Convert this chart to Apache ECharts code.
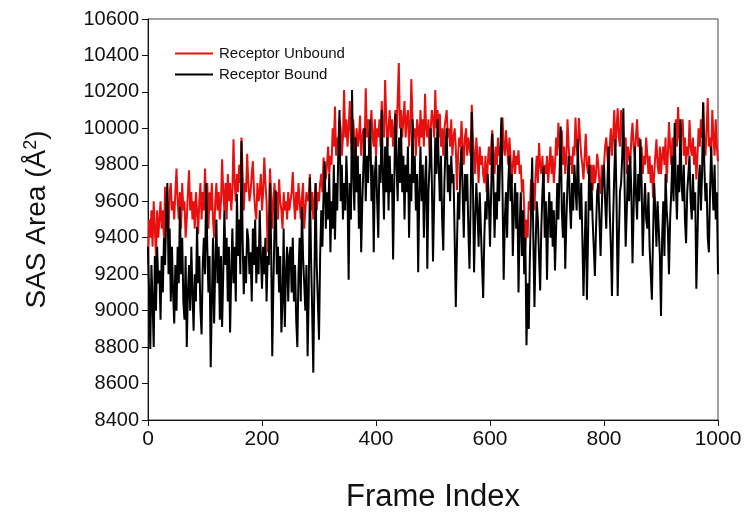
<!DOCTYPE html>
<html>
<head>
<meta charset="utf-8">
<script src="https://cdn.jsdelivr.net/npm/echarts@6/dist/echarts.min.js"></script>
<style>
  html, body { margin: 0; padding: 0; background: #fff; }
  #chart { width: 750px; height: 515px; }
</style>
</head>
<body>
<div id="chart"></div>
<script>
// frames are sampled every 2 frames: value i belongs to frame i*2
const frameStep = 2;

// SAS area, receptor unbound (red) - one row = 50 frames
const unbound = [
  9250, 9500, 9400, 9550, 9350, 9600, 9450, 9300, 9550, 9400, 9500, 9600, 9450, 9550, 9400, 9680, 9500, 9600, 9420, 9650, 9700, 9550, 9600, 9500, 9650,
  9780, 9600, 9500, 9650, 9450, 9700, 9550, 9600, 9400, 9500, 9650, 9770, 9550, 9650, 9500, 9600, 9450, 9650, 9550, 9420, 9600, 9700, 9500, 9650, 9550,
  9780, 9600, 9700, 9450, 9650, 9550, 9700, 9500, 9400, 9600, 9700, 9550, 9650, 9500, 9600, 9830, 9650, 9550, 9700, 9500, 9750, 9600, 9700, 9550, 9650,
  9940, 9700, 9600, 9750, 9650, 9800, 9700, 9950, 9750, 9550, 9700, 9650, 9860, 9700, 9600, 9650, 9750, 9820, 9650, 9550, 9500, 9700, 9600, 9650, 9750,
  9550, 9650, 9840, 9700, 9600, 9320, 9500, 9780, 9650, 9450, 9600, 9700, 9550, 9650, 9500, 9720, 9600, 9550, 9450, 9650, 9550, 9600, 9500, 9650, 9550,
  9550, 9650, 9760, 9600, 9500, 9650, 9550, 9700, 9600, 9500, 9620, 9700, 9450, 9550, 9650, 9600, 9630, 9750, 9550, 9650, 9500, 9600, 9700, 9550, 9650,
  9600, 9700, 9750, 9650, 9840, 9750, 9720, 9800, 9900, 9750, 9850, 9800, 10000, 9900, 10120, 9850, 9950, 9900, 10050, 10000, 9850, 9950, 10210, 9950, 10050,
  9900, 10000, 10150, 9950, 9850, 10050, 9950, 9800, 10000, 9900, 9950, 10070, 9850, 9950, 10000, 9900, 10220, 9950, 10050, 9880, 10000, 10100, 9950, 9900, 10050,
  9850, 10000, 9950, 10050, 9900, 10150, 10000, 9950, 10265, 10050, 9900, 10000, 10100, 9950, 10050, 9900, 10000, 10100, 9950, 10150, 10358, 10000, 10100, 9950, 10050,
  10150, 9950, 10050, 10100, 9900, 10000, 10270, 10050, 9950, 10000, 9850, 10050, 10000, 9900, 10100, 9950, 10050, 9900, 10190, 10000, 9950, 10050, 9850, 10000, 10100,
  10050, 9950, 10210, 10000, 10100, 9950, 10080, 9900, 10000, 9850, 10000, 10050, 10100, 9950, 10000, 9900, 10050, 9850, 9950, 10000, 9900, 9660, 9850, 9950, 9900,
  10040, 9900, 9800, 9950, 10000, 9850, 9950, 9900, 9850, 10130, 9950, 9850, 9750, 9950, 9850, 9700, 9900, 9800, 9850, 9750, 9700, 9850, 9650, 9800, 9900,
  9800, 9900, 9990, 9850, 9750, 9900, 9800, 9950, 9850, 9900, 9800, 10060, 9900, 9850, 9990, 9900, 9800, 9950, 9850, 9700, 9800, 9880, 9750, 9850, 9800,
  9880, 9750, 9800, 9650, 9720, 9550, 9350, 9500, 9400, 9600, 9550, 9720, 9650, 9700, 9550, 9750, 9850, 9700, 9920, 9800, 9750, 9850, 9700, 9800, 9750,
  9850, 9700, 9800, 9900, 9750, 9850, 9700, 9800, 9950, 9850, 10030, 9900, 9850, 9990, 9800, 9900, 9750, 9850, 10050, 9900, 9800, 9850, 9750, 9900, 9850,
  10060, 9900, 9850, 10057, 9950, 9850, 9800, 9720, 9850, 9970, 9800, 9750, 9850, 9700, 9800, 9660, 9800, 9700, 9750, 9860, 9800, 9700, 9640, 9800, 9750,
  9800, 9900, 9950, 9850, 9750, 9900, 10000, 9850, 9950, 10100, 9900, 10000, 10110, 9950, 9900, 10100, 10000, 9850, 9900, 9950, 9750, 9900, 9850, 9800, 9950,
  10030, 9900, 9850, 9950, 10050, 9900, 9950, 9800, 9900, 9750, 9850, 9800, 9950, 9850, 9750, 9850, 9700, 9800, 9620, 9750, 9850, 9940, 9800, 9750, 9900,
  9750, 9850, 9900, 9800, 9950, 9700, 9850, 10035, 9900, 9800, 9950, 9850, 9950, 10050, 9900, 10117, 9950, 9900, 10000, 10050, 9850, 9950, 9800, 9900, 9850,
  10046, 9900, 9850, 9950, 9800, 9900, 9720, 9850, 10000, 9900, 10050, 9950, 10145, 9900, 9850, 10000, 10166, 9900, 9950, 9850, 10100, 9950, 9850, 10050, 9900,
  9820
];

// SAS area, receptor bound (black) - one row = 50 frames
const bound = [
  9350, 9100, 8790, 9250, 9050, 8800, 9300, 9000, 9350, 9150, 9220, 8950, 9300, 9100, 9400, 9250, 9550, 9700, 9200, 9450, 9050, 9350, 9100, 8930, 9250,
  9000, 9350, 9150, 9570, 9200, 9400, 9050, 8950, 9300, 8800, 9100, 9250, 9000, 9350, 9100, 8890, 9200, 9050, 9460, 9150, 9300, 9000, 8870, 9250, 9400,
  9200, 9700, 9350, 9100, 9300, 8690, 9050, 9400, 8930, 9250, 9500, 9150, 9350, 8950, 9300, 8910, 9200, 9550, 9250, 9400, 9050, 9350, 8880, 9200, 9450,
  9150, 9350, 9050, 9640, 9300, 9500, 9200, 9930, 9400, 9090, 9300, 9150, 9450, 9390, 9200, 9320, 9050, 9450, 9250, 9500, 9150, 9350, 9200, 9550, 9300,
  9120, 9350, 9200, 9400, 9050, 9300, 9250, 9700, 9350, 8750, 9150, 9450, 9660, 9200, 9350, 9100, 9300, 8880, 9050, 9450, 8910, 9200, 9350, 9050, 9300,
  9350, 9100, 9400, 9050, 9250, 8950, 8800, 9200, 9400, 9050, 9570, 9300, 9150, 9000, 9250, 8750, 9100, 9730, 9300, 9000, 8660, 9200, 9700, 9250, 9050,
  8840, 9300, 9550, 9350, 9650, 9820, 9450, 9650, 9500, 9750, 9320, 9600, 9450, 9800, 9390, 9700, 9550, 9900, 10100, 9600, 9800, 9500, 9700, 9550, 9850,
  9650, 9170, 9700, 9500, 10210, 9750, 9550, 9950, 9650, 9850, 9450, 9750, 9320, 9600, 9800, 10000, 9600, 9850, 9700, 9900, 10050, 9600, 9800, 9320, 9750,
  9850, 9600, 9400, 9800, 9700, 10100, 9750, 9500, 9900, 9650, 9950, 9550, 9850, 9650, 9750, 9280, 9700, 10080, 9800, 9600, 9950, 9700, 10000, 9650, 9850,
  9500, 9800, 9650, 9900, 9400, 9750, 9600, 10050, 9700, 9850, 9550, 9750, 9210, 9650, 9900, 9600, 9800, 9400, 9700, 9850, 9230, 9650, 9800, 10000, 9700,
  9270, 9600, 9950, 9750, 10050, 9800, 9600, 9850, 9500, 9330, 9700, 9900, 10000, 9650, 9800, 9600, 9850, 9700, 9750, 9400, 9020, 9350, 9650, 9500, 9800,
  9900, 9650, 9400, 9750, 9600, 9750, 9450, 9230, 9600, 10090, 9700, 9210, 9500, 9700, 9550, 9350, 9650, 9450, 9250, 9070, 9400, 9600, 9500, 9750, 9600,
  9350, 9650, 9970, 9700, 9400, 9650, 9500, 9800, 9600, 9850, 10060, 9650, 9170, 9500, 9650, 9400, 9700, 9850, 9600, 9750, 9300, 9550, 9700, 9450, 9650,
  9100, 9450, 9650, 9300, 9550, 9200, 9400, 8810, 9150, 8900, 9300, 9550, 9840, 9400, 9020, 9350, 9600, 9500, 9300, 9110, 9450, 9650, 9790, 9400, 9600,
  9170, 9500, 9650, 9400, 9600, 9350, 9550, 9220, 9450, 9700, 9500, 9750, 10010, 9550, 9400, 9650, 9230, 9500, 9700, 9850, 9600, 9450, 9700, 9550, 9800,
  9800, 9550, 9940, 9650, 9500, 9700, 9400, 9080, 9350, 9600, 9060, 9400, 9800, 9550, 9700, 9500, 9350, 9190, 9450, 9650, 9700, 9500, 9300, 9550, 9750,
  9800, 9600, 9450, 9700, 9900, 9550, 9350, 9080, 9500, 9750, 9940, 9600, 9080, 9400, 9650, 9700, 9850, 10110, 9700, 9350, 9550, 9800, 9600, 9850, 9650,
  9260, 9550, 9900, 9650, 9500, 9750, 9600, 9940, 9700, 9300, 9550, 9700, 9500, 9450, 9650, 9350, 9200, 9060, 9400, 9700, 9550, 9350, 9600, 9450, 9300,
  8970, 9400, 9600, 9300, 9750, 9550, 9450, 9200, 9500, 9650, 9850, 9600, 10030, 9700, 9500, 9800, 9650, 10050, 9700, 9600, 9800, 9500, 9370, 9650, 9750,
  9850, 9600, 9500, 9750, 9550, 9650, 9120, 9400, 9700, 9800, 9550, 9750, 10140, 9800, 9600, 9700, 9400, 9320, 9650, 9900, 9700, 9550, 9800, 9500, 9650,
  9200
];

const xTicks = [0, 200, 400, 600, 800, 1000];
const yTicks = [8400, 8600, 8800, 9000, 9200, 9400, 9600, 9800, 10000, 10200, 10400, 10600];

const chart = echarts.init(document.getElementById('chart'));

const toPairs = vals => vals.map((v, i) => [i * frameStep, v]);

chart.setOption({
  animation: false,
  backgroundColor: '#fff',
  textStyle: { fontFamily: 'Liberation Sans, Arial, sans-serif' },
  grid: {
    left: 148, right: 32, top: 19, bottom: 95,
    outerBoundsMode: 'none',
    show: true, borderColor: '#444', borderWidth: 1
  },
  legend: {
    orient: 'vertical',
    left: 170, top: 41,
    itemWidth: 38, itemHeight: 2,
    itemGap: 6,
    icon: 'rect',
    textStyle: { fontSize: 15, lineHeight: 15, color: '#111', padding: [0, 0, 0, 1] },
    data: ['Receptor Unbound', 'Receptor Bound']
  },
  xAxis: {
    type: 'value',
    min: xTicks[0], max: xTicks[xTicks.length - 1], interval: 200,
    name: 'Frame Index',
    nameLocation: 'middle', nameGap: 62,
    nameTextStyle: { fontSize: 31, color: '#111' },
    axisLine: { onZero: false, lineStyle: { color: '#111', width: 1 } },
    axisTick: { inside: false, length: 6, lineStyle: { color: '#111' } },
    axisLabel: { fontSize: 21, color: '#111', margin: 9, formatter: v => String(v) },
    splitLine: { show: false }
  },
  yAxis: {
    type: 'value',
    min: yTicks[0], max: yTicks[yTicks.length - 1], interval: 200,
    name: 'SAS Area (Å{sup|2})',
    nameLocation: 'middle', nameGap: 96, nameRotate: 90,
    nameTextStyle: {
      fontSize: 28, color: '#111',
      rich: { sup: { fontSize: 18, color: '#111', verticalAlign: 'top', padding: [0, 0, 12, 0] } }
    },
    axisLine: { show: true, lineStyle: { color: '#111', width: 1 } },
    axisTick: { inside: false, length: 6, lineStyle: { color: '#111' } },
    axisLabel: { fontSize: 20, color: '#111', margin: 9, formatter: v => String(v) },
    splitLine: { show: false }
  },
  series: [
    {
      name: 'Receptor Unbound',
      type: 'line',
      data: toPairs(unbound),
      showSymbol: false,
      color: '#e8100f',
      lineStyle: { width: 2, color: '#e8100f' }
    },
    {
      name: 'Receptor Bound',
      type: 'line',
      data: toPairs(bound),
      showSymbol: false,
      color: '#000',
      lineStyle: { width: 2, color: '#000' }
    }
  ]
});
</script>
</body>
</html>
